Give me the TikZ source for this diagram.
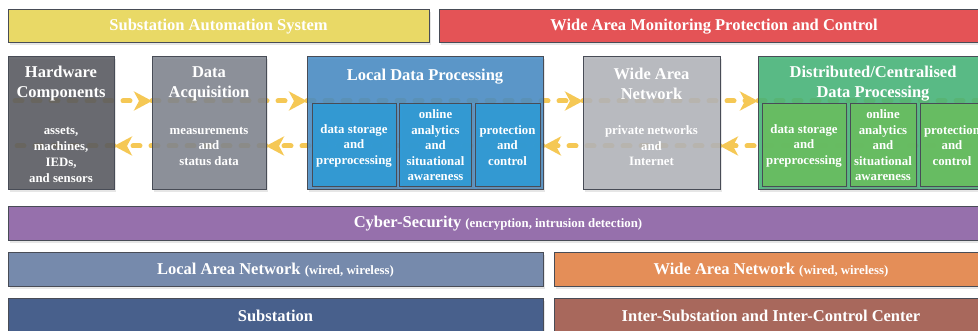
\documentclass[tikz,border=0pt]{standalone}
\usepackage{fontspec}
\setmainfont{Liberation Serif}
\usetikzlibrary{positioning,arrows.meta,shadows,backgrounds}

\definecolor{rimgray}{RGB}{72,76,86}
\definecolor{flowyellow}{RGB}{245,200,85}
\definecolor{sasyellow}{RGB}{233,217,102}
\definecolor{wamred}{RGB}{228,83,86}
\definecolor{hwgray}{RGB}{88,90,96}
\definecolor{acqgray}{RGB}{128,133,143}
\definecolor{ldpblue}{RGB}{72,140,196}
\definecolor{ldpsub}{RGB}{45,155,215}
\definecolor{wangray}{RGB}{178,180,186}
\definecolor{dpgreen}{RGB}{70,180,120}
\definecolor{dpsub}{RGB}{105,190,95}
\definecolor{cyberpurple}{RGB}{150,112,172}
\definecolor{lanblue}{RGB}{118,138,172}
\definecolor{wanorange}{RGB}{228,142,88}
\definecolor{subblue}{RGB}{72,96,140}
\definecolor{interbrown}{RGB}{168,104,92}

\newcommand\boxtitle{\bfseries\fontsize{16.5}{20}\selectfont}
\newcommand\boxtext{\bfseries\fontsize{12.8}{15.5}\selectfont}

\begin{document}
\begin{tikzpicture}[x=1pt,y=-1pt,
    blk/.style={draw=rimgray, line width=1pt, fill=#1, text=white,
      inner sep=0pt, outer sep=0pt, anchor=north west, minimum height=34pt,
      font=\boxtitle,
      drop shadow={shadow xshift=2pt,shadow yshift=-2.5pt,opacity=0.2}},
    bigbox/.style={blk=#1, minimum height=133pt, fill opacity=0.88, text opacity=1},
    sub/.style={blk=#1, minimum height=83pt, fill opacity=0.88, text opacity=1,
      align=center, font=\boxtext, anchor=west},
    ttl/.style={text=white, align=center, font=\boxtitle, inner sep=0pt},
    txt/.style={text=white, align=center, font=\boxtext, inner sep=0pt},
    flowline/.style={draw=flowyellow, line width=5pt, line cap=round,
      dash pattern=on 7pt off 11pt},
    flow/.style={flowline, -{Stealth[length=18pt,width=19pt,inset=5pt]}}]
  \useasboundingbox (0,0) rectangle (978,331);
  \clip (0,0) rectangle (978,331);

  % top bars
  \node[blk=sasyellow, minimum width=421pt, minimum height=33pt] (sas) at (8,10) {Substation Automation System};
  \node[blk=wamred, minimum width=550pt, minimum height=33pt] (wam) at (439,10) {Wide Area Monitoring Protection and Control};

  % main blocks
  \node[bigbox=hwgray, minimum width=106pt] (hw) at (8,57) {};
  \node[bigbox=acqgray, minimum width=114pt] (acq) at (152,57) {};
  \node[bigbox=ldpblue, minimum width=236pt] (ldp) at (307,57) {};
  \node[bigbox=wangray, minimum width=137pt] (wan) at (583,57) {};
  \node[bigbox=dpgreen, minimum width=230pt] (dp) at (758,57) {};

  \node[ttl] at ([yshift=-27pt]hw.north) {Hardware\\Components};
  \node[txt, font=\bfseries\fontsize{12.8}{16}\selectfont] at ([yshift=-31pt]hw.center) {assets,\\machines,\\IEDs,\\and sensors};
  \node[ttl] at ([yshift=-27pt]acq.north) {Data\\Acquisition};
  \node[txt] at ([yshift=-22.5pt]acq.center) {measurements\\and\\status data};
  \node[ttl] at ([yshift=-20pt]ldp.north) {Local Data Processing};
  \node[ttl] at ([yshift=-27pt]wan.north) {Wide Area\\Network};
  \node[txt] at ([yshift=-22.5pt]wan.center) {private networks\\and\\Internet};
  \node[ttl] at ([yshift=-27pt]dp.north) {Distributed/Centralised\\Data Processing};

  % inner blocks
  \node[sub=ldpsub, minimum width=84pt] (l1) at (312,145.5) {data storage\\and\\preprocessing};
  \node[sub=ldpsub, minimum width=72pt, right=3.5pt of l1] (l2) {online\\analytics\\and\\situational\\awareness};
  \node[sub=ldpsub, minimum width=65pt, right=3.5pt of l2] (l3) {protection\\and\\control};
  \node[sub=dpsub, minimum width=84pt] (d1) at (762,145.5) {data storage\\and\\preprocessing};
  \node[sub=dpsub, minimum width=66pt, right=4pt of d1] (d2) {online\\analytics\\and\\situational\\awareness};
  \node[sub=dpsub, minimum width=64pt, right=4pt of d2] (d3) {protection\\and\\control};

  % data flow
  \begin{pgfonlayer}{background}
    \draw[flow] ([xshift=7pt,yshift=22.5pt]hw.west) -- ([yshift=22.5pt]acq.west);
    \draw[flow] ([yshift=22.5pt]acq.west) -- ([yshift=22.5pt]ldp.west);
    \draw[flow] ([yshift=22.5pt]ldp.west) -- ([yshift=22.5pt]wan.west);
    \draw[flow] ([yshift=22.5pt]wan.west) -- ([yshift=22.5pt]dp.west);
    \draw[flowline] ([yshift=22.5pt]dp.west) -- ([yshift=22.5pt]dp.east);
    \draw[flow] ([yshift=-22.5pt]dp.east) -- ([yshift=-22.5pt]wan.east);
    \draw[flow] ([yshift=-22.5pt]wan.east) -- ([yshift=-22.5pt]ldp.east);
    \draw[flow] ([yshift=-22.5pt]ldp.east) -- ([yshift=-22.5pt]acq.east);
    \draw[flow] ([yshift=-22.5pt]acq.east) -- ([yshift=-22.5pt]hw.east);
    \draw[flowline] ([yshift=-22.5pt]hw.east) -- ([xshift=7pt,yshift=-22.5pt]hw.west);
  \end{pgfonlayer}

  % lower bars
  \node[blk=cyberpurple, minimum width=980pt] (cyber) at (8,207) {Cyber-Security {\boxtext(encryption, intrusion detection)}};
  \node[blk=lanblue, minimum width=535pt] (lan) at (8,253) {Local Area Network {\boxtext(wired, wireless)}};
  \node[blk=wanorange, minimum width=434pt] (wanbar) at (554,253) {Wide Area Network {\boxtext(wired, wireless)}};
  \node[blk=subblue, minimum width=535pt] (sub) at (8,299) {Substation};
  \node[blk=interbrown, minimum width=434pt] (inter) at (554,299) {Inter-Substation and Inter-Control Center};
\end{tikzpicture}
\end{document}
